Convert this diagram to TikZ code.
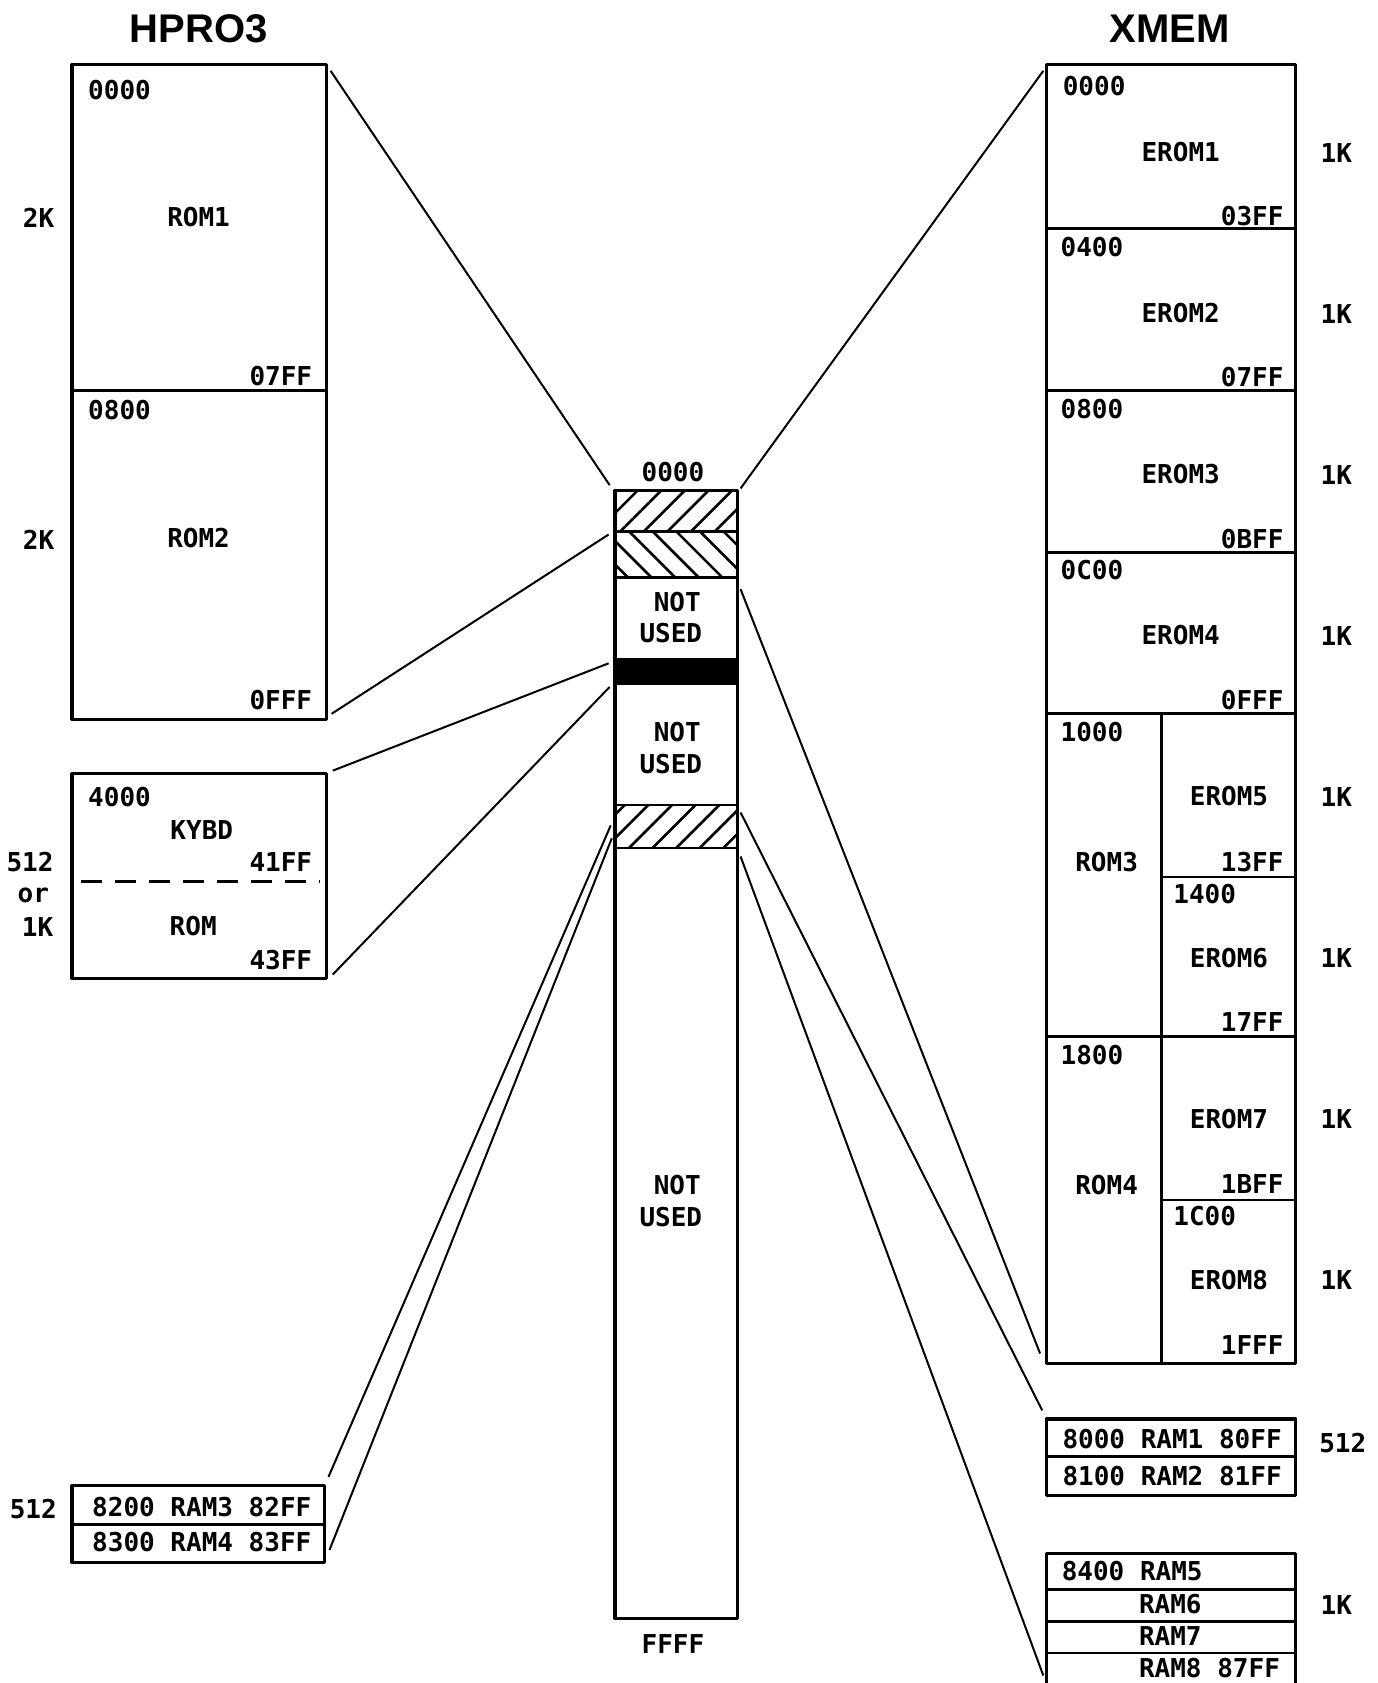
\documentclass[tikz,border=0pt]{standalone}
\usepackage{fontspec}
\newfontfamily\monofnt{DejaVu Sans Mono}
\newfontfamily\titlefnt{Liberation Sans}
\begin{document}
\begin{tikzpicture}[x=1.0733pt,y=-1.0733pt,
  lbl/.style={font=\monofnt\bfseries\fontsize{26}{30}\selectfont, inner sep=0pt},
  ttl/.style={font=\titlefnt\bfseries\fontsize{40}{46}\selectfont, inner sep=0pt},
  frame/.style={line width=3.2pt, line join=round},
  sep/.style={line width=2.8pt},
  conn/.style={line width=2pt},
  hatch/.style={line width=2.6pt}]
\useasboundingbox (0,0) rectangle (1283,1568);

% titles
\node[ttl] (tH) at (185,27) {HPRO3};
\node[ttl] (tX) at (1090,27) {XMEM};

% ---------- HPRO3 ROM1/ROM2 ----------
\draw[frame] (67,60) rectangle (304,670);
\draw[sep] (67,364) -- (304,364);
\node[lbl,anchor=west] (a1) at (82,84) {0000};
\node[lbl] (a2) at (185,202) {ROM1};
\node[lbl,anchor=east] (a3) at (291,350) {07FF};
\node[lbl,anchor=west] (a4) at (82,382) {0800};
\node[lbl] (a5) at (185,501) {ROM2};
\node[lbl,anchor=east] (a6) at (291,652) {0FFF};
\node[lbl] (a7) at (36,203) {2K};
\node[lbl] (a8) at (36,503) {2K};

% ---------- KYBD ----------
\draw[frame] (67,721) rectangle (304,912);
\draw[sep,dash pattern=on 21pt off 13pt] (75,821) -- (298,821);
\node[lbl,anchor=west] (b1) at (82,743) {4000};
\node[lbl] (b2) at (188,773) {KYBD};
\node[lbl,anchor=east] (b3) at (291,803) {41FF};
\node[lbl] (b4) at (180,863) {ROM};
\node[lbl,anchor=east] (b5) at (291,894) {43FF};
\node[lbl] (b6) at (28,803) {512};
\node[lbl] (b7) at (31,834) {or};
\node[lbl] (b8) at (35,864) {1K};

% ---------- RAM3/RAM4 ----------
\draw[frame] (67,1384) rectangle (302,1456);
\draw[sep] (67,1420) -- (302,1420);
\node[lbl] (c1) at (188,1404) {8200 RAM3 82FF};
\node[lbl] (c2) at (188,1437) {8300 RAM4 83FF};
\node[lbl] (c3) at (31,1406) {512};

% ---------- centre map ----------
\begin{scope}
\clip (573,457) rectangle (687,495);
\foreach \s in {-60,-38,...,700} {\draw[hatch] (\s,495) -- (\s+38,457);}
\end{scope}
\begin{scope}
\clip (573,495) rectangle (687,538);
\foreach \s in {520,542,...,700} {\draw[hatch] (\s,495) -- (\s+43,538);}
\end{scope}
\begin{scope}
\clip (573,750) rectangle (687,790);
\foreach \s in {520,542,...,700} {\draw[hatch] (\s,790) -- (\s+40,750);}
\end{scope}
\fill (573,614) rectangle (687,637);
\draw[frame] (573,457) rectangle (687,1508);
\foreach \yy in {495,538,614,637,750,790} {\draw[sep] (573,\yy) -- (687,\yy);}
\node[lbl] (m0) at (627,440) {0000};
\node[lbl] (m1) at (631,561) {NOT};
\node[lbl] (m2) at (625,590) {USED};
\node[lbl] (m3) at (631,682) {NOT};
\node[lbl] (m4) at (625,712) {USED};
\node[lbl] (m5) at (631,1104) {NOT};
\node[lbl] (m6) at (625,1134) {USED};
\node[lbl] (m7) at (627,1532) {FFFF};

% ---------- XMEM ----------
\draw[frame] (975,60) rectangle (1207,1270);
\foreach \yy in {213,364,515,665,966} {\draw[sep] (975,\yy) -- (1207,\yy);}
\draw[sep] (1082,665) -- (1082,1270);
\draw[sep] (1082,817) -- (1207,817);
\draw[sep] (1082,1118) -- (1207,1118);
\node[lbl,anchor=west] (x1) at (990,80) {0000};
\node[lbl] (x2) at (1100,142) {EROM1};
\node[lbl,anchor=east] (x3) at (1196,201) {03FF};
\node[lbl,anchor=west] (x4) at (988,230) {0400};
\node[lbl] (x5) at (1100,292) {EROM2};
\node[lbl,anchor=east] (x6) at (1196,351) {07FF};
\node[lbl,anchor=west] (x7) at (988,381) {0800};
\node[lbl] (x8) at (1100,442) {EROM3};
\node[lbl,anchor=east] (x9) at (1196,502) {0BFF};
\node[lbl,anchor=west] (x10) at (988,531) {0C00};
\node[lbl] (x11) at (1100,592) {EROM4};
\node[lbl,anchor=east] (x12) at (1196,652) {0FFF};
\node[lbl,anchor=west] (x13) at (988,682) {1000};
\node[lbl] (x14) at (1031,803) {ROM3};
\node[lbl] (x15) at (1145,742) {EROM5};
\node[lbl,anchor=east] (x16) at (1196,803) {13FF};
\node[lbl,anchor=west] (x17) at (1093,833) {1400};
\node[lbl] (x18) at (1145,893) {EROM6};
\node[lbl,anchor=east] (x19) at (1196,952) {17FF};
\node[lbl,anchor=west] (x20) at (988,983) {1800};
\node[lbl] (x21) at (1031,1104) {ROM4};
\node[lbl] (x22) at (1145,1043) {EROM7};
\node[lbl,anchor=east] (x23) at (1196,1103) {1BFF};
\node[lbl,anchor=west] (x24) at (1093,1133) {1C00};
\node[lbl] (x25) at (1145,1193) {EROM8};
\node[lbl,anchor=east] (x26) at (1196,1253) {1FFF};
\foreach \yy [count=\i] in {143,293,443,593,743,893,1043,1193} {\node[lbl] (k\i) at (1245,\yy) {1K};}

% ---------- RAM1/RAM2 ----------
\draw[frame] (975,1322) rectangle (1207,1393);
\draw[sep] (975,1357) -- (1207,1357);
\node[lbl] (r1) at (1092,1341) {8000 RAM1 80FF};
\node[lbl] (r2) at (1092,1375) {8100 RAM2 81FF};
\node[lbl] (r3) at (1251,1344) {512};

% ---------- RAM5..RAM8 ----------
\draw[frame] (975,1590) -- (975,1447) -- (1207,1447) -- (1207,1590);
\foreach \yy in {1481,1511,1540} {\draw[sep] (975,\yy) -- (1207,\yy);}
\node[lbl,anchor=west] (s1) at (989,1464) {8400 RAM5};
\node[lbl,anchor=west] (s2) at (1061,1494) {RAM6};
\node[lbl,anchor=west] (s3) at (1061,1524) {RAM7};
\node[lbl,anchor=west] (s4) at (1061,1554) {RAM8 87FF};
\node[lbl] (s5) at (1245,1495) {1K};

% ---------- connector end points ----------
\coordinate (pAt) at (308,66);   \coordinate (qAt) at (568,452);
\coordinate (pAb) at (309,665);  \coordinate (qAb) at (567,498);
\coordinate (pBt) at (310,718);  \coordinate (qBt) at (567,618);
\coordinate (pBb) at (310,908);  \coordinate (qBb) at (568,640);
\coordinate (pCt) at (306,1376); \coordinate (qCt) at (569,769);
\coordinate (pCb) at (307,1444); \coordinate (qCb) at (570,781);
\coordinate (pXt) at (972,66);   \coordinate (qXt) at (690,455);
\coordinate (pXb) at (969,1261); \coordinate (qXb) at (690,549);
\coordinate (pRt) at (971,1314); \coordinate (qRt) at (690,757);
\coordinate (pSb) at (972,1561); \coordinate (qSb) at (690,798);

\draw[conn] (pAt) -- (qAt);
\draw[conn] (pAb) -- (qAb);
\draw[conn] (pBt) -- (qBt);
\draw[conn] (pBb) -- (qBb);
\draw[conn] (pCt) -- (qCt);
\draw[conn] (pCb) -- (qCb);
\draw[conn] (pXt) -- (qXt);
\draw[conn] (pXb) -- (qXb);
\draw[conn] (pRt) -- (qRt);
\draw[conn] (pSb) -- (qSb);
\end{tikzpicture}
\end{document}
